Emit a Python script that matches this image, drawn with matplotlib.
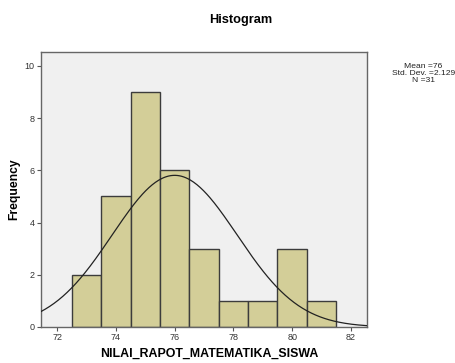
import numpy as np
import matplotlib
matplotlib.use("Agg")
import matplotlib.pyplot as plt

# data --------------------------------------------------------------------
bin_edges = [72.5, 73.5, 74.5, 75.5, 76.5, 77.5, 78.5, 79.5, 80.5, 81.5]
counts = [2, 5, 9, 6, 3, 1, 1, 3, 1]
mean, std, n = 76, 2.129, 31
x_ticks = [72, 74, 76, 78, 80, 82]
y_ticks = [0, 2, 4, 6, 8, 10]

plt.rcParams['font.family'] = ['Liberation Sans', 'DejaVu Sans']

fig = plt.figure(figsize=(4.56, 3.63), dpi=100)
ax = fig.add_axes([0.0899, 0.0992, 0.715, 0.758])
ax.set_facecolor('#f0f0f0')

# bars --------------------------------------------------------------------
lefts = bin_edges[:-1]
widths = np.diff(bin_edges)
ax.bar(lefts, counts, width=widths, align='edge', color='#d3ce98',
       edgecolor='#3c3c3c', linewidth=1.0, zorder=2)

# normal curve ------------------------------------------------------------
xs = np.linspace(71.45, 82.55, 300)
bw = widths[0]
ys = n * bw / (std * np.sqrt(2 * np.pi)) * np.exp(-0.5 * ((xs - mean) / std) ** 2)
ax.plot(xs, ys, color='#222222', linewidth=0.9, zorder=3)

ax.set_xlim(71.45, 82.55)
ax.set_ylim(0, 10.54)
ax.set_xticks(x_ticks)
ax.set_yticks(y_ticks)
ax.tick_params(labelsize=6.5, length=3, width=0.8, color='#555555',
               labelcolor='#333333', pad=1.5)
for s in ax.spines.values():
    s.set_color('#666666')
    s.set_linewidth(1.0)

ax.set_xlabel('NILAI_RAPOT_MATEMATIKA_SISWA', fontsize=8.9, fontweight='bold')
ax.xaxis.set_label_coords(0.517, -0.074)
ax.set_ylabel('Frequency', fontsize=8.7, fontweight='bold')
ax.yaxis.set_label_coords(-0.063, 0.5)

fig.text(0.528, 0.944, 'Histogram', ha='center', va='center', fontsize=9.2,
         fontweight='bold')
fig.text(0.928, 0.798, 'Mean =%g\nStd. Dev. =%.3f\nN =%d' % (mean, std, n),
         ha='center', va='center', fontsize=6.1, linespacing=0.95,
         color='#222222')

fig.savefig('out.png', dpi=100)
